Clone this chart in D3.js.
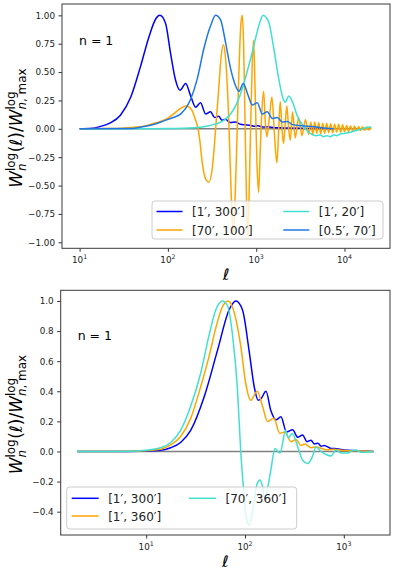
<!DOCTYPE html>
<html>
<head>
<meta charset="utf-8">
<script src="https://cdn.jsdelivr.net/npm/d3@7"></script>
<style>
body { margin: 0; background: #fff; }
svg { display: block; font-family: "DejaVu Sans", sans-serif; }
</style>
</head>
<body>
<svg id="fig" width="398" height="577"></svg>
<script>
// ---- top panel: [ell, W] ----
var top_1_300 = [[10,0],[14,0.005],[17,0.02],[22,0.05],[29,0.12],[38,0.28],[49,0.55],[61,0.81],[73,0.97],[81,1.0],[94,0.93],[107,0.67],[122,0.43],[137,0.34],[159,0.40],[181,0.29],[206,0.19],[234,0.23],[268,0.13],[304,0.15],[338,0.10],[376,0.11],[411,0.075],[448,0.084],[510,0.055],[581,0.06],[662,0.04],[753,0.035],[858,0.03],[950,0.022],[1050,0.026],[1200,0.015],[1350,0.018],[1600,0.01],[2000,0.008],[3200,0.005],[5000,0.002],[7500,0]];
var top_70_100 = [[10,0],[20,0.002],[30,0.005],[45,0.015],[58,0.03],[75,0.055],[98,0.09],[120,0.14],[139,0.18],[159,0.20],[175,0.19],[188,0.16],[205,0.08],[215,0.03],[228,-0.08],[245,-0.3],[267,-0.44],[291,-0.47],[318,-0.35],[345,-0.03],[376,0.35],[399,0.62],[424,0.74],[450,0.62],[490,0.06],[520,-0.56],[551,-0.92],[580,-0.55],[610,0.0],[640,0.55],[670,0.92],[696,1.0],[720,0.75],[750,0.0],[780,-0.7],[805,-0.96],[830,-0.6],[870,0.1],[905,0.6],[935,0.78],[975,0.3],[1020,-0.3],[1065,-0.56],[1110,-0.2],[1150,0.1],[1213,0.33],[1270,0.05],[1321,-0.07],[1410,0.1],[1506,0.28],[1610,-0.05],[1716,-0.30],[1800,0.0],[1872,0.24],[1960,0.0],[2042,-0.13],[2130,0.05],[2226,0.20],[2330,0.0],[2432,-0.10],[2582,0.15],[2766,-0.08],[3020,0.10],[3302,-0.06],[3607,0.08],[3940,-0.05],[4150,0.06],[4370,-0.05],[4600,0.06],[4850,-0.04],[5100,0.055],[5380,-0.045],[5660,0.05],[5960,-0.04],[6280,0.05],[6620,-0.035],[6970,0.045],[7340,-0.035],[7730,0.04],[8150,-0.03],[8580,0.04],[9040,-0.03],[9520,0.035],[10000,-0.025],[10600,0.03],[11100,-0.025],[11700,0.025],[12400,-0.02],[13000,0.025],[13700,-0.018],[14500,0.02],[15200,-0.015],[16000,0.018],[16900,-0.012],[17800,0.015],[18800,-0.01],[19800,0.012],[20000,0.0]];
var top_1_20 = [[10,0],[50,0.0],[100,0.002],[200,0.01],[300,0.03],[400,0.06],[500,0.12],[600,0.22],[700,0.36],[800,0.52],[900,0.67],[1000,0.82],[1100,0.94],[1200,1.0],[1300,0.98],[1400,0.93],[1580,0.71],[1800,0.44],[2050,0.25],[2150,0.235],[2330,0.29],[2600,0.23],[2900,0.12],[3300,0.04],[3800,-0.02],[4300,-0.05],[4800,-0.06],[5300,-0.055],[5800,-0.07],[6300,-0.06],[6900,-0.07],[7500,-0.055],[8200,-0.06],[9000,-0.045],[10000,-0.04],[11700,-0.03],[13500,-0.015],[15200,-0.005],[17500,0.01],[20000,0.015]];
var top_05_70 = [[10,0],[38,0.002],[53,0.02],[70,0.04],[90,0.07],[115,0.1],[139,0.13],[181,0.26],[215,0.44],[256,0.71],[305,0.91],[347,1.0],[395,0.96],[450,0.76],[513,0.53],[584,0.38],[637,0.33],[714,0.40],[805,0.30],[903,0.21],[1029,0.23],[1172,0.13],[1335,0.15],[1521,0.09],[1733,0.10],[1975,0.06],[2250,0.065],[2563,0.037],[3020,0.03],[3500,0.025],[4316,0.02],[5500,0.01],[7530,0.0]];

// ---- bottom panel ----
var bot_1_300 = [[2,0],[5,0],[8.7,0.002],[14,0.008],[17.7,0.025],[22.3,0.06],[28.2,0.14],[38.5,0.36],[52.6,0.67],[69,0.94],[81,1.0],[94.4,0.94],[110,0.67],[124,0.43],[136,0.34],[145,0.35],[163,0.40],[183,0.27],[206,0.21],[231,0.23],[263,0.13],[303,0.145],[341,0.095],[383,0.11],[424,0.065],[465,0.075],[505,0.05],[548,0.055],[589,0.035],[631,0.04],[743,0.02],[850,0.018],[1007,0.01],[1334,0.005],[2000,0]];
var bot_1_360 = [[2,0],[5,0],[8.7,0.003],[14,0.015],[17.7,0.045],[22.3,0.1],[28.2,0.22],[35.6,0.43],[43.2,0.63],[50.6,0.82],[59,0.96],[67,1.0],[74.6,0.96],[90.6,0.70],[101.9,0.45],[114.5,0.34],[132.7,0.40],[150.6,0.30],[169,0.20],[196,0.22],[225,0.12],[253,0.13],[292,0.065],[328,0.08],[369,0.04],[405,0.05],[465,0.025],[523,0.03],[661,0.012],[800,0.015],[939,0.008],[1500,0.003],[2000,0]];
var bot_70_360 = [[2,0],[5,0],[8.7,0.005],[14,0.025],[17.7,0.06],[22.3,0.14],[28.2,0.30],[35.6,0.52],[43.2,0.77],[50.6,0.94],[59,1.0],[66.4,0.97],[74.6,0.78],[83.9,0.41],[90.6,0.0],[96.6,-0.25],[101.9,-0.42],[110,-0.49],[117,-0.43],[123.7,-0.33],[132,-0.22],[142,-0.19],[150,-0.23],[159,-0.32],[170,-0.24],[183,-0.12],[201,0.02],[215,0.0],[227,-0.01],[257,0.14],[275,0.09],[300,0.12],[354,0.0],[384,-0.06],[431,-0.08],[484,-0.03],[523,0.03],[589,0.0],[661,-0.02],[743,-0.03],[835,0.01],[939,-0.01],[1099,-0.01],[1200,0.005],[1334,0.01],[1500,-0.005],[1686,-0.005],[2000,0]];

var topMajor = [10, 100, 1000, 10000];
var botMajor = [10, 100, 1000];
var topYTicks = [-1, -0.75, -0.5, -0.25, 0, 0.25, 0.5, 0.75, 1];
var botYTicks = [-0.4, -0.2, 0, 0.2, 0.4, 0.6, 0.8, 1.0];
var topZero = [10, 20000];
var botZero = [2, 2000];
var topLabels = ["[1\u2032, 300\u2032]", "[70\u2032, 100\u2032]", "[1\u2032, 20\u2032]", "[0.5\u2032, 70\u2032]"];
var botLabels = ["[1\u2032, 300\u2032]", "[1\u2032, 360\u2032]", "[70\u2032, 360\u2032]"];

var C_BLUE = "#0000ff", C_ORANGE = "#ffa500", C_CYAN = "#40e0d0", C_MID = "#1e78e6";

var svg = d3.select('#fig');

function drawPanel(p) {
    var x = d3.scaleLog().domain(p.xDomain).range([p.left, p.right]);
    var y = d3.scaleLinear().domain(p.yDomain).range([p.bottom, p.top]);

    svg.append('clipPath').attr('id', 'clip' + p.id)
        .append('rect')
            .attr('x', p.left).attr('y', p.top)
            .attr('width', p.right - p.left).attr('height', p.bottom - p.top);

    var g = svg.append('g').attr('clip-path', 'url(#clip' + p.id + ')');
    var line = d3.line()
        .x(function(d) { return x(d[0]); })
        .y(function(d) { return y(d[1]); })
        .curve(d3.curveMonotoneX);

    g.append('path')
        .datum(p.zero.map(function(l) { return [l, 0]; }))
        .attr('d', line)
        .attr('fill', 'none').attr('stroke', '#808080').attr('stroke-width', 1.5);

    p.series.forEach(function(s) {
        g.append('path').datum(s.data)
            .attr('d', line)
            .attr('fill', 'none')
            .attr('stroke', s.color)
            .attr('stroke-width', 1.5)
            .attr('stroke-linejoin', 'round');
    });

    // axes
    var minor = x.ticks().filter(function(t) {
        return p.major.indexOf(t) < 0 && t >= p.xDomain[0] && t <= p.xDomain[1];
    });
    var ax = svg.append('g').attr('transform', 'translate(0,' + p.bottom + ')');
    ax.call(d3.axisBottom(x).tickValues(minor).tickSize(2).tickFormat(''));
    ax.call(d3.axisBottom(x).tickValues(p.major).tickSize(3.5).tickFormat(''));
    ax.selectAll('.domain').remove();
    ax.selectAll('line').attr('stroke', '#333');

    svg.selectAll('.xl' + p.id).data(p.major).enter().append('text')
        .attr('class', 'xl' + p.id)
        .attr('x', function(d) { return x(d); })
        .attr('y', p.bottom + 15)
        .attr('text-anchor', 'middle')
        .attr('font-size', 8.8)
        .attr('fill', '#222')
        .each(function(d) {
            var t = d3.select(this);
            t.append('tspan').text('10');
            t.append('tspan').attr('dy', -4).attr('font-size', 6.3)
                .text(Math.round(Math.log10(d)));
        });

    var ay = svg.append('g').attr('transform', 'translate(' + p.left + ',0)');
    ay.call(d3.axisLeft(y).tickValues(p.yTicks).tickSize(3.5).tickPadding(3.5)
        .tickFormat(d3.format(p.yFormat)));
    ay.selectAll('.domain').remove();
    ay.selectAll('line').attr('stroke', '#333');
    ay.selectAll('text').attr('font-size', 8.8).attr('fill', '#222')
        .attr('font-family', '"DejaVu Sans", sans-serif');

    svg.append('rect')
        .attr('x', p.left).attr('y', p.top)
        .attr('width', p.right - p.left).attr('height', p.bottom - p.top)
        .attr('fill', 'none').attr('stroke', '#3a3a3a').attr('stroke-width', 1);

    // x label (ell)
    svg.append('text')
        .attr('x', (p.left + p.right) / 2).attr('y', p.bottom + 32)
        .attr('text-anchor', 'middle')
        .attr('font-size', 16).attr('font-style', 'italic')
        .text('\u2113');

    svg.append('text')
        .attr('x', p.left + 17).attr('y', p.nY)
        .attr('font-size', 12.5)
        .text('n = 1');

    yLabel(p.labelX, (p.top + p.bottom) / 2 + 2);
    drawLegend(p.legend, p.series);
}

function yLabel(cx, cy) {
    var g = svg.append('g').attr('transform', 'translate(' + cx + ',' + cy + ') rotate(-90)');
    var pos = 0;
    function piece(str, at, size, dy, italic) {
        var t = g.append('text')
            .attr('x', at).attr('y', dy)
            .attr('font-size', size)
            .attr('font-style', italic ? 'italic' : 'normal')
            .text(str);
        return t.node().getComputedTextLength();
    }
    pos += piece('W', pos, 17, 0, true);
    var a = piece('log', pos, 11.9, -7, false);
    var b = piece('n', pos, 11.9, 4, true);
    pos += Math.max(a, b) + 0.5;
    pos += piece('(', pos, 17, 0, false);
    pos += piece('\u2113', pos, 17, 0, true);
    pos += piece(')/', pos, 17, 0, false);
    pos += piece('W', pos, 17, 0, true);
    a = piece('log', pos, 11.9, -7, false);
    var n1 = piece('n', pos, 11.9, 4, true);
    var n2 = piece(', max', pos + n1, 11.9, 4, false);
    pos += Math.max(a, n1 + n2);
    var shift = -pos / 2;
    g.selectAll('text').attr('x', function() { return +d3.select(this).attr('x') + shift; });
}

function drawLegend(L, series) {
    svg.append('rect')
        .attr('x', L.x).attr('y', L.y).attr('width', L.w).attr('height', L.h)
        .attr('rx', 3)
        .attr('fill', '#fff').attr('fill-opacity', 0.8)
        .attr('stroke', '#cccccc').attr('stroke-width', 1);
    series.forEach(function(s, i) {
        var col = Math.floor(i / 2), row = i % 2;
        var lx = L.cols[col], ly = L.rows[row];
        svg.append('line')
            .attr('x1', lx).attr('x2', lx + L.len)
            .attr('y1', ly).attr('y2', ly)
            .attr('stroke', s.color).attr('stroke-width', 1.5);
        svg.append('text')
            .attr('x', lx + L.len + 9.5).attr('y', ly + 4.5)
            .attr('font-size', 12)
            .attr('fill', '#222')
            .text(s.label);
    });
}

drawPanel({
    id: 'top', left: 62, right: 390, top: 4, bottom: 248.3,
    xDomain: [6.32, 32760], yDomain: [-1.053, 1.1],
    major: topMajor, yTicks: topYTicks, yFormat: '.2f', zero: topZero,
    nY: 45, labelX: 22,
    series: [
        {data: top_1_300, color: C_BLUE, label: topLabels[0]},
        {data: top_70_100, color: C_ORANGE, label: topLabels[1]},
        {data: top_1_20, color: C_CYAN, label: topLabels[2]},
        {data: top_05_70, color: C_MID, label: topLabels[3]}
    ],
    legend: {x: 152, y: 201, w: 231, h: 38, cols: [156.5, 283.3], rows: [211.5, 230], len: 26}
});

drawPanel({
    id: 'bot', left: 60.7, right: 390, top: 290.3, bottom: 535,
    xDomain: [1.364, 2935], yDomain: [-0.555, 1.071],
    major: botMajor, yTicks: botYTicks, yFormat: '.1f', zero: botZero,
    nY: 340, labelX: 22,
    series: [
        {data: bot_1_300, color: C_BLUE, label: botLabels[0]},
        {data: bot_1_360, color: C_ORANGE, label: botLabels[1]},
        {data: bot_70_360, color: C_CYAN, label: botLabels[2]}
    ],
    legend: {x: 66.7, y: 487, w: 230, h: 42, cols: [71.7, 189], rows: [498.3, 516], len: 27}
});
</script>
</body>
</html>
